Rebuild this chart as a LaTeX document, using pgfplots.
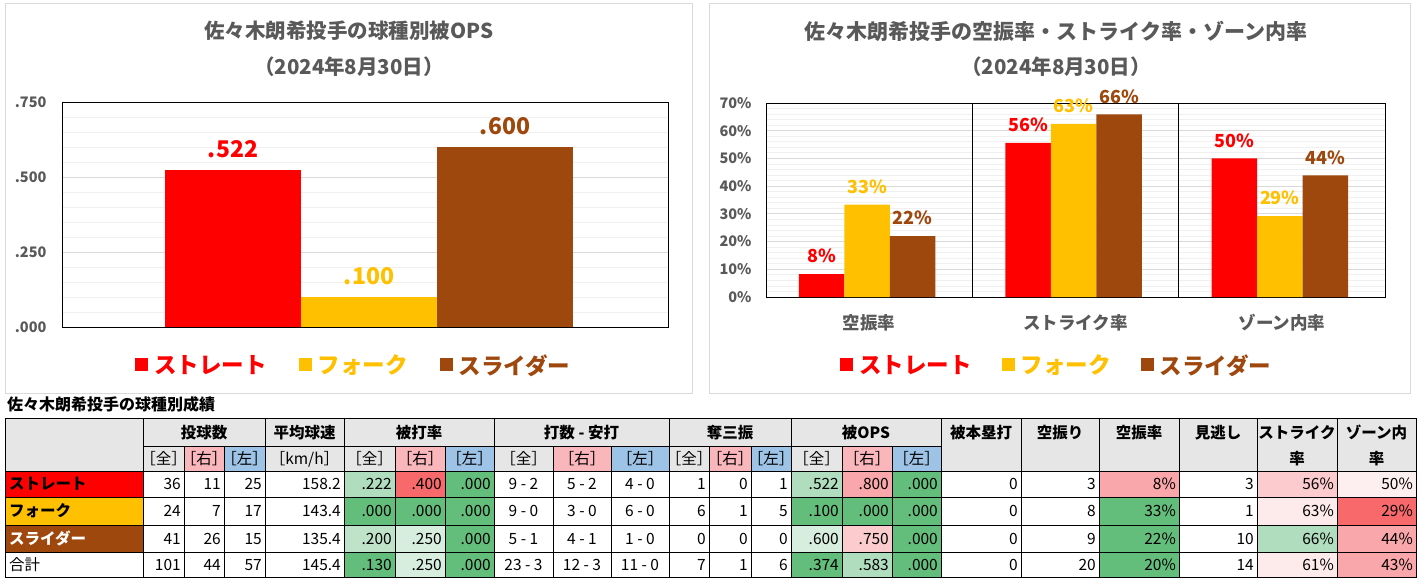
\documentclass[border=0pt]{standalone}
\usepackage{pgfplots}
\pgfplotsset{compat=1.18}
\usepackage{fontspec}
\setmainfont{Noto Sans CJK JP}
\newcommand\fs[1]{\fontsize{#1}{#1}\selectfont}
\definecolor{cRed}{HTML}{FF0000}
\definecolor{cYel}{HTML}{FFC000}
\definecolor{cBrn}{HTML}{9E480E}
\definecolor{cGray}{HTML}{595959}
\definecolor{chartBorder}{HTML}{D9D9D9}
\definecolor{gridMaj}{HTML}{D9D9D9}
\definecolor{gridMin}{HTML}{F0F0F0}
\definecolor{hdr}{HTML}{E7E6E6}
\definecolor{hR}{HTML}{F9B6BB}
\definecolor{hL}{HTML}{9DC3E6}
\definecolor{gA}{HTML}{63BE7B}
\definecolor{gB}{HTML}{B1DDBF}
\definecolor{gC}{HTML}{BEE3C9}
\definecolor{gD}{HTML}{D7EEDE}
\definecolor{rA}{HTML}{F8696B}
\definecolor{rB}{HTML}{F9A7AA}
\definecolor{rC}{HTML}{FBCBCE}
\definecolor{rD}{HTML}{FDEAEB}
\definecolor{rE}{HTML}{FDEFF0}

\def\colx{{5,143,184,224,265,344,395,445,494,553,611,669,709,751,791,842,892,941,1021,1099,1179,1257,1337,1416}}
\newcommand\tabrow[3]{%
  \foreach \v/\f [count=\i] in {#3}{%
    \pgfmathsetmacro\xl{\colx[\i]}%
    \pgfmathsetmacro\xr{\colx[\i+1]}%
    \fill[\f] (\xl,#1) rectangle (\xr,#2);%
    \def\al{r}%
    \ifnum\i>7 \ifnum\i<11 \def\al{c}\fi\fi
    \if c\al
      \node[anchor=base,inner sep=0pt] at ({(\xl+\xr)/2},{(#1+#2)/2+5.5}) {\v};%
    \else
      \node[anchor=base east,inner sep=0pt] at ({\xr-3},{(#1+#2)/2+5.5}) {\v};%
    \fi
  }%
}

\begin{document}
\begin{tikzpicture}
\path[use as bounding box, fill=white] (0pt,0pt) rectangle (1418pt,-578pt);
% chart frames
\draw[chartBorder, line width=0.8pt] (5pt,-3pt) rectangle (692pt,-393pt);
\draw[chartBorder, line width=0.8pt] (709pt,-3pt) rectangle (1410pt,-393pt);
% titles
\node[text=cGray, font=\fs{20.5}\bfseries] at (349pt,-31pt) {佐々木朗希投手の球種別被OPS};
\node[text=cGray, font=\fs{20.5}\bfseries] at (349pt,-67pt) {（2024年8月30日）};
\node[text=cGray, font=\fs{21}\bfseries] at (1056pt,-31pt) {佐々木朗希投手の空振率・ストライク率・ゾーン内率};
\node[text=cGray, font=\fs{20.5}\bfseries] at (1056pt,-67pt) {（2024年8月30日）};

% ---------- chart 1 ----------
\begin{axis}[
  at={(62pt,-327pt)}, anchor=south west,
  scale only axis, width=606pt, height=225pt,
  xmin=-0.5, xmax=0.5, ymin=0, ymax=0.75,
  xtick=\empty,
  ytick={0,0.25,0.5,0.75}, yticklabels={.000,.250,.500,.750},
  minor y tick num=4,
  ymajorgrids, yminorgrids,
  major grid style={draw=gridMaj, line width=0.8pt},
  minor grid style={draw=gridMin, line width=0.8pt},
  major tick length=0pt, minor tick length=0pt,
  axis line style={black, line width=0.8pt},
  yticklabel style={text=cGray, font=\fs{14.5}\bfseries, xshift=-12pt},
  ybar, bar width=136pt,
  clip=false,
  point meta=explicit symbolic,
  nodes near coords,
  every node near coord/.append style={font=\fs{23}\bfseries, inner ysep=0pt, yshift=12pt},
  legend columns=3,
  legend style={at={(0.1205,-0.169)}, anchor=west, draw=none, fill=none, inner sep=0pt,
    font=\fs{22.5}\bfseries, column sep=0pt,
    /tikz/every even column/.append style={column sep=30pt}},
  legend image code/.code={\fill[#1] (0pt,-6.3pt) rectangle (13pt,6.7pt); \path (17pt,0pt);},
]
\addplot[fill=cRed, draw=none, bar shift=-132pt, every node near coord/.append style={text=cRed}] coordinates {(0,0.522) [.522]};
\addlegendentry{\textcolor{cRed}{ストレート}}
\addplot[fill=cYel, draw=none, bar shift=4pt, every node near coord/.append style={text=cYel}] coordinates {(0,0.100) [.100]};
\addlegendentry{\textcolor{cYel}{フォーク}}
\addplot[fill=cBrn, draw=none, bar shift=140pt, every node near coord/.append style={text=cBrn}] coordinates {(0,0.600) [.600]};
\addlegendentry{\textcolor{cBrn}{スライダー}}
\end{axis}

% ---------- chart 2 ----------
\begin{axis}[
  at={(766pt,-297pt)}, anchor=south west,
  scale only axis, width=619pt, height=194pt,
  xmin=-0.5, xmax=2.5, ymin=0, ymax=70,
  xtick={0,1,2}, xticklabels={空振率,ストライク率,ゾーン内率},
  extra x ticks={0.5,1.5}, extra x tick labels={},
  extra x tick style={grid=major, major grid style={draw=black, line width=0.8pt}},
  ytick={0,10,20,30,40,50,60,70},
  yticklabels={0\%,10\%,20\%,30\%,40\%,50\%,60\%,70\%},
  minor y tick num=4,
  ymajorgrids, yminorgrids,
  major grid style={draw=gridMaj, line width=0.8pt},
  minor grid style={draw=gridMin, line width=0.8pt},
  major tick length=0pt, minor tick length=0pt,
  axis line style={black, line width=0.8pt},
  yticklabel style={text=cGray, font=\fs{14.5}\bfseries, xshift=-11pt},
  xticklabel style={text=cGray, font=\fs{17.5}\bfseries, anchor=base, yshift=-32pt},
  ybar, bar width=45.5pt,
  clip=false,
  point meta=explicit symbolic,
  nodes near coords,
  every node near coord/.append style={font=\fs{18}\bfseries, inner ysep=0pt, yshift=10.7pt},
  legend columns=3,
  legend style={at={(0.1195,-0.3505)}, anchor=west, draw=none, fill=none, inner sep=0pt,
    font=\fs{22.5}\bfseries, column sep=0pt,
    /tikz/every even column/.append style={column sep=28pt}},
  legend image code/.code={\fill[#1] (0pt,-6.3pt) rectangle (13pt,6.7pt); \path (17pt,0pt);},
]
\addplot[fill=cRed, draw=none, bar shift=-47.5pt, every node near coord/.append style={text=cRed}] coordinates {(0,8.3) [8\%] (1,55.6) [56\%] (2,50.0) [50\%]};
\addlegendentry{\textcolor{cRed}{ストレート}}
\addplot[fill=cYel, draw=none, bar shift=-2pt, every node near coord/.append style={text=cYel}] coordinates {(0,33.3) [33\%] (1,62.5) [63\%] (2,29.2) [29\%]};
\addlegendentry{\textcolor{cYel}{フォーク}}
\addplot[fill=cBrn, draw=none, bar shift=43.5pt, every node near coord/.append style={text=cBrn}] coordinates {(0,22.0) [22\%] (1,65.9) [66\%] (2,43.9) [44\%]};
\addlegendentry{\textcolor{cBrn}{スライダー}}
\end{axis}

% ---------- table ----------
\begin{scope}[x=1pt,y=-1pt,font=\fs{15.5}]
\node[anchor=base west, inner sep=0pt, font=\fs{16}\bfseries] at (7,410) {佐々木朗希投手の球種別成績};
\fill[hdr] (5,418) rectangle (1416,471);
\foreach \a/\b in {184/224,395/445,553/611,709/751,842/892} \fill[hR] (\a,446) rectangle (\b,471);
\foreach \a/\b in {224/265,445/494,611/669,751/791,892/941} \fill[hL] (\a,446) rectangle (\b,471);
% header row 1
\foreach \x/\t in {204/投球数,304.5/平均球速,419/被打率,581.5/打数 - 安打,730/奪三振,866/被OPS,981/被本塁打,1060/空振り,1139/空振率,1218/見逃し,1297/ストライク,1376.5/ゾーン内}
  \node[anchor=base, inner sep=0pt, font=\fs{15.5}\bfseries] at (\x,438) {\t};
\foreach \x in {1297,1376.5} \node[anchor=base, inner sep=0pt, font=\fs{15.5}\bfseries] at (\x,464) {率};
% header row 2
\foreach \x/\t in {163.5/全,204/右,244.5/左,369.5/全,420/右,469.5/左,523.5/全,582/右,640/左,689/全,730/右,771/左,816.5/全,867/右,916.5/左}
  \node[anchor=base, inner sep=0pt] at (\x,464) {［\t］};
\node[anchor=base, inner sep=0pt] at (304.5,464) {［km/h］};
% label column
\fill[cRed] (5,471) rectangle (143,497);
\fill[cYel] (5,497) rectangle (143,525);
\fill[cBrn] (5,525) rectangle (143,552);
\node[anchor=base west, inner sep=0pt, font=\fs{15.5}\bfseries] at (9,489.5) {ストレート};
\node[anchor=base west, inner sep=0pt, font=\fs{15.5}\bfseries] at (9,516.5) {フォーク};
\node[anchor=base west, inner sep=0pt, font=\fs{15.5}\bfseries, text=white] at (9,544) {スライダー};
\node[anchor=base west, inner sep=0pt] at (9,570.5) {合計};
% data rows
\tabrow{471}{497}{36/white,11/white,25/white,158.2/white,.222/gB,.400/rA,.000/gA,9 - 2/white,5 - 2/white,4 - 0/white,1/white,0/white,1/white,.522/gB,.800/rB,.000/gA,0/white,3/white,8\%/rB,3/white,56\%/rC,50\%/rE}
\tabrow{497}{525}{24/white,7/white,17/white,143.4/white,.000/gA,.000/gA,.000/gA,9 - 0/white,3 - 0/white,6 - 0/white,6/white,1/white,5/white,.100/gA,.000/gA,.000/gA,0/white,8/white,33\%/gA,1/white,63\%/rD,29\%/rA}
\tabrow{525}{552}{41/white,26/white,15/white,135.4/white,.200/gC,.250/gD,.000/gA,5 - 1/white,4 - 1/white,1 - 0/white,0/white,0/white,0/white,.600/gD,.750/rC,.000/gA,0/white,9/white,22\%/gA,10/white,66\%/gB,44\%/rB}
\tabrow{552}{577.5}{101/white,44/white,57/white,145.4/white,.130/gA,.250/gD,.000/gA,23 - 3/white,12 - 3/white,11 - 0/white,7/white,1/white,6/white,.374/gA,.583/gB,.000/gA,0/white,20/white,20\%/gA,14/white,61\%/rD,43\%/rB}
% grid lines
\begin{scope}[line width=0.9pt, black]
\foreach \y in {418,471,497,525,552,577.5} \draw (5,\y) -- (1416,\y);
\draw (143,446) -- (941,446);
\foreach \x in {5,143,265,344,494,669,791,941,1021,1099,1179,1257,1337,1416} \draw (\x,418) -- (\x,577.5);
\foreach \x in {184,224,395,445,553,611,709,751,842,892} \draw (\x,446) -- (\x,577.5);
\end{scope}
\end{scope}
\end{tikzpicture}
\end{document}
